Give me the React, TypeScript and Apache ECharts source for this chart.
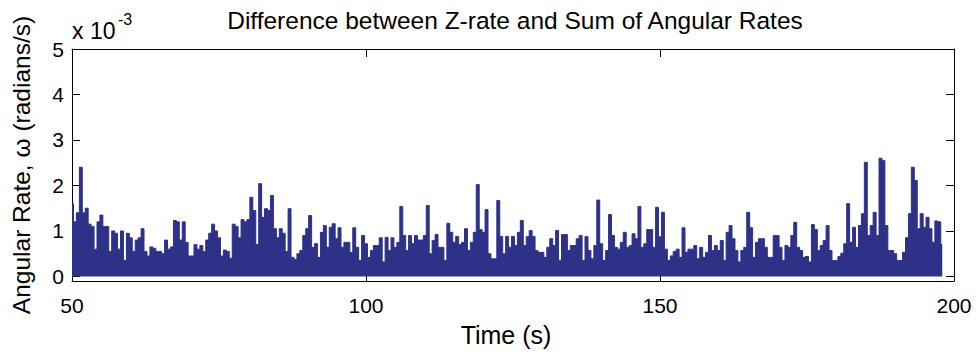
import React, { useEffect, useRef } from "react";
import * as echarts from "echarts";

const chartTitle = "Difference between Z-rate and Sum of Angular Rates";
const xName = "Time (s)";
const yName = "Angular Rate, \u03c9 (radians/s)";
const xTicks = [50, 100, 150, 200];
const yTicks = [0, 1, 2, 3, 4, 5];
const startTime = 50;
const sampleStep = 0.5;

// upper envelope of the signal, in units of 1e-3 rad/s, one value every 0.5 s
const peaks50to80 = [1.6, 1.2, 1.4, 2.4, 1.4, 1.5, 1.15, 1.1, 0.6, 1.2, 1.35, 1.1, 1.1, 0.55, 1.0, 0.95, 0.6, 1.0, 0.35, 0.95, 0.85, 0.55, 0.8, 0.85, 1.05, 0.55, 0.45, 0.65, 0.62, 0.55, 0.55, 0.5, 0.8, 0.6, 0.65, 1.23, 1.2, 0.8, 1.2, 0.75, 0.45, 0.45, 0.7, 0.6, 0.68, 0.55, 0.8, 0.95, 1.15, 1.0, 0.85, 0.45, 0.58, 0.55, 0.4, 1.15, 1.1, 0.85, 1.25, 1.2];
const peaks80to110 = [1.25, 1.74, 1.45, 0.7, 2.04, 1.3, 1.49, 1.45, 1.78, 1.05, 0.85, 1.05, 0.95, 0.55, 1.49, 0.42, 0.38, 0.5, 0.57, 0.9, 1.05, 1.34, 0.64, 0.72, 0.42, 0.97, 1.12, 0.64, 1.08, 1.16, 0.83, 1.07, 0.64, 0.75, 0.75, 0.53, 1.07, 0.64, 0.35, 0.9, 0.72, 0.42, 0.57, 0.68, 0.68, 0.85, 0.32, 0.86, 0.57, 0.85, 0.64, 0.75, 1.54, 0.9, 0.57, 0.9, 0.72, 0.9, 0.8, 0.8];
const peaks110to140 = [0.9, 1.56, 0.5, 0.79, 0.92, 0.64, 0.64, 0.35, 1.17, 0.97, 0.75, 0.88, 0.7, 0.75, 1.05, 0.57, 0.75, 0.97, 2.02, 1.03, 0.97, 1.47, 0.5, 0.39, 0.39, 1.67, 0.88, 0.5, 0.88, 0.64, 0.88, 0.68, 0.97, 1.23, 0.68, 0.88, 1.01, 0.88, 0.57, 0.53, 0.53, 0.42, 0.64, 0.83, 0.68, 1.01, 0.35, 0.92, 0.92, 0.57, 0.68, 0.68, 0.83, 0.9, 0.35, 0.88, 0.57, 0.39, 0.68, 1.68];
const peaks140to170 = [0.72, 0.35, 0.57, 1.36, 0.9, 0.64, 0.6, 0.75, 0.97, 0.64, 0.68, 0.94, 0.83, 1.54, 0.64, 0.72, 1.03, 1.03, 0.64, 1.52, 0.87, 1.41, 0.6, 0.35, 0.45, 0.55, 0.6, 0.42, 1.07, 0.53, 0.6, 0.6, 0.68, 0.39, 0.64, 0.42, 0.53, 0.9, 0.57, 0.68, 0.57, 0.79, 0.35, 0.97, 1.12, 0.83, 0.57, 0.32, 0.57, 0.64, 1.41, 1.07, 0.42, 0.75, 0.83, 0.83, 0.64, 0.42, 0.42, 0.9];
const peaks170to198 = [0.9, 0.64, 0.35, 0.68, 0.64, 0.9, 1.19, 0.64, 0.57, 0.42, 0.44, 0.32, 1.14, 1.03, 0.57, 0.68, 0.79, 1.12, 0.57, 0.35, 0.35, 0.44, 0.51, 0.72, 1.6, 0.75, 1.08, 0.64, 1.12, 1.38, 2.51, 0.9, 1.12, 1.41, 0.9, 2.6, 2.55, 1.12, 0.57, 0.57, 0.5, 0.35, 0.35, 0.53, 0.85, 1.38, 2.4, 2.11, 1.05, 1.38, 1.08, 1.3, 1.05, 0.75, 1.22, 1.2, 0.7];

const FONT = "'Liberation Sans', Arial, Helvetica, sans-serif";
const LINE_COLOR = "#2e3188";

export default function App() {
  const ref = useRef<HTMLDivElement>(null);

  useEffect(() => {
    if (!ref.current) return;
    const chart = echarts.init(ref.current, null, { renderer: "svg" });
    const peaks = [...peaks50to80, ...peaks80to110, ...peaks110to140, ...peaks140to170, ...peaks170to198];
    const data = peaks.map((p, i) => [startTime + i * sampleStep, p]);

    const axisLine = { show: true, onZero: false, lineStyle: { color: "#000", width: 1 } };
    const tick = { show: true, inside: true, length: 8, lineStyle: { color: "#000", width: 1 } };

    chart.setOption({
      animation: false,
      backgroundColor: "#fff",
      title: {
        text: chartTitle,
        left: 510,
        top: 3,
        textAlign: "center",
        textStyle: { fontFamily: FONT, fontSize: 24.5, fontWeight: "normal", color: "#000" },
      },
      grid: { left: 72, right: 22, top: 49, bottom: 71, containLabel: false },
      xAxis: [
        {
          type: "value",
          min: 50,
          max: 200,
          interval: 50,
          position: "bottom",
          axisLine,
          axisTick: tick,
          axisLabel: { color: "#000", fontSize: 21, fontFamily: FONT, margin: 14, customValues: xTicks },
          splitLine: { show: false },
          name: xName,
          nameLocation: "middle",
          nameGap: 41,
          nameTextStyle: { fontSize: 25, color: "#000", fontFamily: FONT, padding: [0, 14, 0, 0] },
        },
        {
          type: "value",
          min: 50,
          max: 200,
          interval: 50,
          position: "top",
          axisLine,
          axisTick: tick,
          axisLabel: { show: false },
          splitLine: { show: false },
        },
      ],
      yAxis: [
        {
          type: "value",
          min: -0.1,
          max: 5,
          position: "left",
          axisLine,
          axisTick: { ...tick, customValues: yTicks },
          axisLabel: { color: "#000", fontSize: 21, fontFamily: FONT, margin: 8, customValues: yTicks },
          splitLine: { show: false },
          name: yName,
          nameLocation: "middle",
          nameGap: 38,
          nameTextStyle: { fontSize: 24.5, color: "#000", fontFamily: FONT },
        },
        {
          type: "value",
          min: -0.1,
          max: 5,
          position: "right",
          axisLine,
          axisTick: { ...tick, customValues: yTicks },
          axisLabel: { show: false },
          splitLine: { show: false },
        },
      ],
      graphic: [
        {
          type: "text",
          x: 72,
          y: 31,
          style: { text: "x 10", fill: "#000", font: `23px ${FONT}`, verticalAlign: "middle", align: "left" },
        },
        {
          type: "text",
          x: 118,
          y: 19,
          style: { text: "-3", fill: "#000", font: `16px ${FONT}`, verticalAlign: "middle", align: "left" },
        },
      ],
      series: [
        {
          type: "line",
          data,
          xAxisIndex: 0,
          yAxisIndex: 0,
          step: "middle",
          showSymbol: false,
          symbol: "none",
          silent: true,
          lineStyle: { color: LINE_COLOR, width: 1 },
          areaStyle: { color: LINE_COLOR, opacity: 1, origin: 0 },
        },
      ],
    });
    return () => chart.dispose();
  }, []);

  return (
    <div
      ref={ref}
      style={{ position: "fixed", left: 0, top: 0, width: 976, height: 352, background: "#fff" }}
    />
  );
}
